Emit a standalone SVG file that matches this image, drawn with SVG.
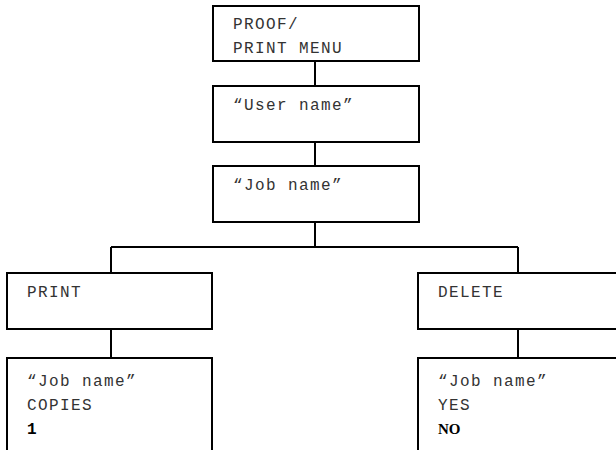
<svg xmlns="http://www.w3.org/2000/svg" width="616" height="450" viewBox="0 0 616 450">
<style>
.box{fill:#fff;stroke:#000;stroke-width:2}
.t{font-family:"Liberation Mono","Courier New",monospace;font-size:16px;letter-spacing:1.4px;fill:#333}
.b{font-weight:bold;fill:#000}
.nb{font-family:"Liberation Serif","Times New Roman",serif;font-size:15px;font-weight:bold;fill:#000}
.c{fill:none;stroke:#000;stroke-width:2}
</style>
<rect width="616" height="450" fill="#fff"/>
<g id="connectors">
<path class="c" d="M315 61V86M315 142V166M315 222V247M111 247H518M111 247V273M518 247V273M111 329V358M518 329V358"/>
</g>
<g id="n1"><rect class="box" x="213" y="6" width="206" height="55"/>
<text class="t" x="233" y="29">PROOF/</text><text class="t" x="233" y="53">PRINT MENU</text></g>
<g id="n2"><rect class="box" x="213" y="86" width="206" height="56"/>
<text class="t" x="233" y="110">“User name”</text></g>
<g id="n3"><rect class="box" x="213" y="166" width="206" height="56"/>
<text class="t" x="233" y="190">“Job name”</text></g>
<g id="n4"><rect class="box" x="7" y="273" width="205" height="56"/>
<text class="t" x="27" y="297">PRINT</text></g>
<g id="n5"><rect class="box" x="418" y="273" width="210" height="56"/>
<text class="t" x="438" y="297">DELETE</text></g>
<g id="n6"><rect class="box" x="7" y="358" width="205" height="110"/>
<text class="t" x="27" y="386">“Job name”</text><text class="t" x="27" y="409.5">COPIES</text><text class="t b" x="27" y="434">1</text></g>
<g id="n7"><rect class="box" x="418" y="358" width="210" height="110"/>
<text class="t" x="438" y="386">“Job name”</text><text class="t" x="438" y="409.5">YES</text><text class="nb" x="438" y="434">NO</text></g>
</svg>
